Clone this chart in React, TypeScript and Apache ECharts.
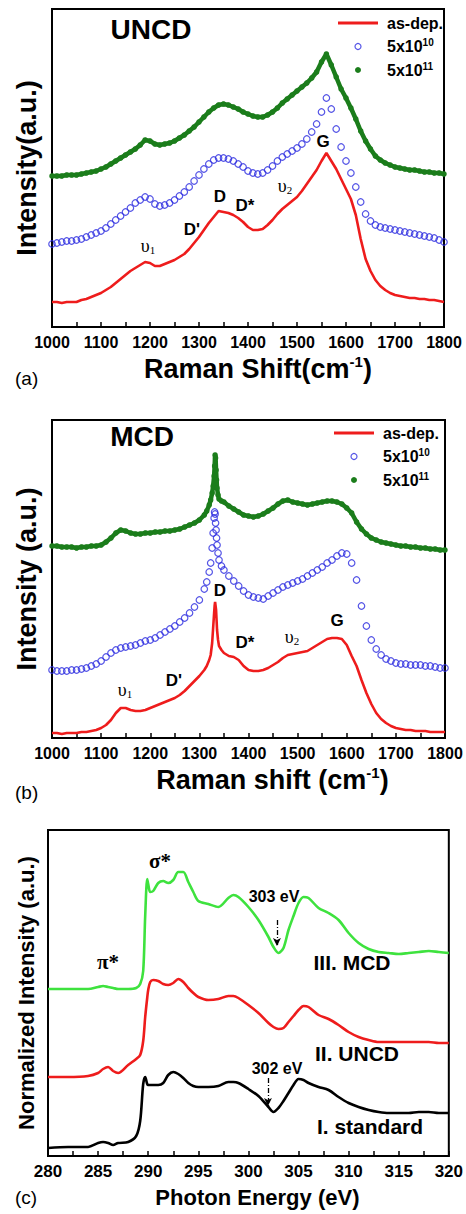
import React, { useEffect, useRef } from "react";
import * as echarts from "echarts";

// ---------- Panel (a): UNCD Raman ----------
const X_A = [
  1000, 1010, 1020, 1030, 1040, 1050, 1060, 1070, 1080, 1090,
  1100, 1110, 1120, 1130, 1140, 1150, 1160, 1170, 1180, 1190,
  1200, 1210, 1220, 1230, 1240, 1250, 1260, 1270, 1280, 1290,
  1300, 1310, 1320, 1330, 1340, 1350, 1360, 1370, 1380, 1390,
  1400, 1410, 1420, 1430, 1440, 1450, 1460, 1470, 1480, 1490,
  1500, 1510, 1520, 1530, 1540, 1550, 1560, 1570, 1580, 1590,
  1600, 1610, 1620, 1630, 1640, 1650, 1660, 1670, 1680, 1690,
  1700, 1710, 1720, 1730, 1740, 1750, 1760, 1770, 1780, 1790, 1800,
];
const ASDEP_A = [
  25, 25, 24, 25, 25, 25, 27, 28, 30, 32,
  34, 37, 40, 44, 48, 52, 56, 59, 62, 65,
  64, 61, 61, 63, 65, 67, 70, 73, 78, 84,
  90, 97, 104, 110, 116, 115, 114, 112, 109, 105,
  100, 97, 97, 98, 102, 107, 113, 118, 122, 126,
  130, 136, 143, 150, 157, 166, 174, 166, 158, 148,
  138, 128, 112, 88, 68, 56, 47, 41, 37, 34,
  32, 31, 30, 29, 29, 28, 28, 27, 27, 26, 25,
];
const ION10_A = [
  83, 84, 85, 86, 86, 87, 88, 90, 92, 94,
  96, 99, 103, 107, 111, 115, 119, 124, 127, 130,
  128, 123, 121, 122, 124, 127, 131, 135, 140, 146,
  152, 158, 163, 167, 169, 169, 168, 166, 163, 160,
  156, 154, 153, 154, 157, 161, 166, 170, 173, 176,
  179, 183, 188, 195, 203, 215, 229, 218, 198, 180,
  166, 154, 140, 125, 113, 106, 102, 100, 99, 98,
  97, 96, 95, 94, 93, 92, 91, 90, 89, 87, 85,
];
const ION11_A = [
  151, 151, 151, 152, 152, 152, 153, 154, 155, 156,
  158, 160, 163, 166, 169, 172, 175, 178, 182, 187,
  186, 183, 182, 183, 184, 186, 189, 192, 196, 200,
  205, 210, 215, 219, 222, 223, 222, 220, 218, 215,
  213, 211, 210, 210, 212, 215, 219, 224, 228, 232,
  236, 240, 244, 249, 255, 265, 273, 262, 250, 238,
  229, 219, 208, 196, 186, 178, 171, 167, 164, 162,
  160, 159, 158, 157, 157, 156, 155, 155, 154, 154, 153,
];

// ---------- Panel (b): MCD Raman ----------
const X_B = [
  1000, 1010, 1020, 1030, 1040, 1050, 1060, 1070, 1080, 1090,
  1100, 1110, 1120, 1130, 1140, 1150, 1160, 1170, 1180, 1190,
  1200, 1210, 1220, 1230, 1240, 1250, 1260, 1270, 1280, 1290,
  1300, 1310, 1315, 1320, 1323, 1326, 1328, 1330, 1331, 1332,
  1333, 1334, 1335, 1336, 1338, 1340, 1345, 1350, 1360, 1370,
  1380, 1390, 1400, 1410, 1420, 1430, 1440, 1450, 1460, 1470,
  1480, 1490, 1500, 1510, 1520, 1530, 1540, 1550, 1560, 1570,
  1580, 1590, 1600, 1610, 1620, 1630, 1640, 1650, 1660, 1670,
  1680, 1690, 1700, 1710, 1720, 1730, 1740, 1750, 1760, 1770,
  1780, 1790, 1800,
];
const ASDEP_B = [
  5, 5, 4, 5, 5, 5, 6, 6, 7, 8,
  10, 13, 18, 25, 30, 30, 28, 27, 27, 28,
  30, 32, 34, 36, 38, 40, 43, 47, 52, 57,
  62, 68, 72, 78, 83, 95, 110, 125, 132, 136,
  136, 128, 118, 108, 98, 92, 88, 85, 82, 81,
  78, 72, 68, 67, 67, 68, 70, 73, 76, 80,
  83, 84, 85, 86, 87, 90, 93, 96, 99, 100,
  100, 99, 93, 82, 72, 58, 45, 34, 25, 19,
  15, 12, 10, 9, 8, 8, 7, 7, 7, 6,
  6, 6, 6,
];
const ION10_B = [
  68, 67, 67, 67, 68, 68, 69, 70, 72, 74,
  77, 81, 85, 88, 90, 91, 92, 93, 95, 97,
  98, 100, 103, 106, 109, 112, 116, 120, 125, 131,
  138, 149, 156, 166, 175, 190, 205, 220, 226, 224,
  215, 208, 200, 193, 185, 178, 172, 168, 162, 157,
  152, 147, 143, 141, 140, 139, 142, 145, 148, 151,
  153, 155, 157, 159, 162, 165, 168, 171, 175, 178,
  182, 185, 184, 175, 158, 132, 112, 98, 89, 83,
  79, 77, 75, 74, 74, 73, 73, 73, 72, 72,
  71, 70, 70,
];
const ION11_B = [
  192, 192, 191, 191, 191, 190, 191, 191, 192, 192,
  193, 196, 200, 205, 208, 207, 205, 204, 204, 205,
  205, 206, 206, 207, 207, 208, 209, 211, 213, 215,
  218, 223, 227, 233, 238, 245, 252, 262, 272, 283,
  280, 268, 258, 250, 243, 239, 237, 236, 232, 229,
  226, 223, 222, 221, 222, 224, 227, 230, 234, 237,
  238, 236, 235, 234, 233, 234, 235, 236, 237, 237,
  236, 234, 230, 225, 216, 209, 204, 200, 198, 196,
  195, 194, 193, 192, 192, 191, 191, 190, 190, 189,
  189, 188, 188,
];

// ---------- Panel (c): C K-edge XANES ----------
const E_C = [
  280, 282, 284, 285, 285.5, 286, 286.5, 287, 288, 288.8,
  289.2, 289.5, 289.7, 289.9, 290, 290.2, 290.5, 291, 291.5, 292,
  292.5, 293, 293.5, 294, 294.5, 295, 296, 297, 298, 298.5,
  299, 300, 301, 302, 302.5, 303, 303.5, 304, 304.5, 305,
  305.5, 306, 307, 308, 309, 310, 311, 312, 313, 314,
  315, 316, 317, 318, 319, 320,
];
const MCD_C = [
  167, 167, 167, 169, 170, 169, 168, 167, 167, 168,
  172, 185, 240, 277, 272, 264, 265, 273, 275, 273,
  276, 284, 284, 274, 264, 255, 252, 249, 258, 261,
  259, 249, 236, 219, 209, 203, 208, 226, 240, 253,
  259, 258, 248, 243, 236, 223, 213, 207, 204, 203,
  202, 203, 204, 205, 204, 203,
];
const UNCD_C = [
  79, 79, 80, 83, 87, 89, 85, 83, 91, 97,
  101, 115, 139, 158, 166, 174, 176, 175, 172, 171,
  173, 177, 174, 168, 163, 159, 156, 157, 160, 160,
  158, 151, 143, 133, 129, 127, 128, 134, 140, 146,
  150, 149, 141, 137, 131, 124, 119, 116, 114, 114,
  114, 114, 114, 114, 113, 113,
];
const STD_C = [
  8, 9, 9, 13, 14, 13, 11, 13, 14, 20,
  35, 72, 79, 72, 71, 71, 71, 71, 73, 81,
  84, 82, 78, 73, 70, 69, 69, 70, 74, 74,
  73, 67, 60, 49, 44, 48, 55, 63, 71, 77,
  76, 73, 69, 66, 59, 53, 49, 46, 44, 43,
  43, 43, 44, 44, 43, 43,
];

const LEGEND_NAMES = ["as-dep.", "5x10^10", "5x10^11"];
const XANES_NAMES = ["III. MCD", "II. UNCD", "I. standard"];

const RED = "#ee1c1c";
const BLUE = "#2a2ae0";
const DKGREEN = "#1b7d1b";
const LTGREEN = "#3ee23e";
const BLACK = "#000000";

const FONT = "'Liberation Sans', Arial, Helvetica, sans-serif";
const SERIF = "'Liberation Serif', 'Times New Roman', serif";

const pairs = (xs: number[], ys: number[]) => xs.map((x, i) => [x, ys[i]]);

const legendFormatter = (name: string) => {
  const parts = name.split("^");
  return parts.length > 1 ? `{b|${parts[0]}}{s|${parts[1]}}` : `{b|${name}}`;
};

const legendCfg = (left: number, top: number) => ({
  left,
  top,
  orient: "vertical",
  itemWidth: 40,
  itemHeight: 6,
  itemGap: 6.5,
  selectedMode: false,
  formatter: legendFormatter,
  textStyle: {
    color: "#000",
    rich: {
      b: { fontFamily: FONT, fontSize: 16, fontWeight: "bold", color: "#000", lineHeight: 18, padding: [0, 0, 0, 4] },
      s: { fontFamily: FONT, fontSize: 10, fontWeight: "bold", color: "#000", verticalAlign: "top", lineHeight: 10 },
    },
  },
  data: [
    { name: LEGEND_NAMES[0], icon: "path://M0 0H40V3H0Z", itemStyle: { color: RED } },
    { name: LEGEND_NAMES[1], icon: "circle", itemStyle: { color: "rgba(0,0,0,0)", borderColor: BLUE, borderWidth: 1.2 } },
    { name: LEGEND_NAMES[2], icon: "circle", itemStyle: { color: DKGREEN } },
  ],
});

const xAxisCfg = (gi: number, min: number, max: number, interval: number, name: string, padLeft: number, fs: number, labelFs: number, nameGap: number) => ({
  type: "value",
  gridIndex: gi,
  min,
  max,
  interval,
  name,
  nameLocation: "middle",
  nameGap,
  nameTextStyle: {
    padding: [0, 0, 0, padLeft],
    rich: {
      t: { fontFamily: FONT, fontSize: fs, fontWeight: "bold", color: "#000", lineHeight: fs + 2 },
      s: { fontFamily: FONT, fontSize: Math.round(fs * 0.55), fontWeight: "bold", color: "#000", verticalAlign: "top", lineHeight: 12 },
    },
  },
  axisLine: { show: true, onZero: false, lineStyle: { color: "#000", width: 2 } },
  axisTick: { show: true, inside: true, length: 5, lineStyle: { color: "#000", width: 1.5 } },
  minorTick: { show: true, splitNumber: 2, length: 5, lineStyle: { color: "#000", width: 1.5 } },
  splitLine: { show: false },
  minorSplitLine: { show: false },
  axisLabel: {
    fontFamily: FONT,
    fontSize: labelFs,
    fontWeight: "bold",
    color: "#000",
    margin: 7,
    formatter: (v: number) => String(v),
  },
});

const yAxisCfg = (gi: number, max: number, name: string, fs: number, nameGap: number) => ({
  type: "value",
  gridIndex: gi,
  min: 0,
  max,
  name,
  nameLocation: "middle",
  nameGap,
  nameTextStyle: { fontFamily: FONT, fontSize: fs, fontWeight: "bold", color: "#000" },
  axisLine: { show: true, onZero: false, lineStyle: { color: "#000", width: 2 } },
  axisTick: { show: false },
  axisLabel: { show: false },
  splitLine: { show: false },
});

const redLine = (gi: number, xs: number[], ys: number[]) => ({
  name: LEGEND_NAMES[0],
  type: "line",
  xAxisIndex: gi,
  yAxisIndex: gi,
  data: pairs(xs, ys),
  symbol: "none",
  lineStyle: { color: RED, width: 2.6 },
  itemStyle: { color: RED },
  silent: true,
});
const blueOpen = (gi: number, xs: number[], ys: number[]) => ({
  name: LEGEND_NAMES[1],
  type: "scatter",
  xAxisIndex: gi,
  yAxisIndex: gi,
  data: pairs(xs, ys),
  symbol: "circle",
  symbolSize: 6.5,
  itemStyle: { color: "rgba(0,0,0,0)", borderColor: BLUE, borderWidth: 1.2 },
  silent: true,
});
const greenDots = (gi: number, xs: number[], ys: number[]) => ({
  name: LEGEND_NAMES[2],
  type: "line",
  xAxisIndex: gi,
  yAxisIndex: gi,
  data: pairs(xs, ys),
  symbol: "circle",
  symbolSize: 5.5,
  showSymbol: true,
  showAllSymbol: true,
  lineStyle: { color: DKGREEN, width: 4.5 },
  itemStyle: { color: DKGREEN },
  silent: true,
});
const xanesLine = (name: string, ys: number[], color: string, arrow?: number[]) => ({
  name,
  type: "line",
  xAxisIndex: 2,
  yAxisIndex: 2,
  data: pairs(E_C, ys),
  symbol: "none",
  smooth: 0.3,
  lineStyle: { color, width: 2.6 },
  itemStyle: { color },
  silent: true,
  markLine: arrow
    ? {
        silent: true,
        symbol: ["none", "arrow"],
        symbolSize: [6, 8],
        label: { show: false },
        lineStyle: { color: "#000", width: 1.3, type: [5, 2, 1, 2] },
        data: [[{ coord: [arrow[0], arrow[1]] }, { coord: [arrow[0], arrow[2]] }]],
      }
    : undefined,
});

const txt = (text: string, x: number, y: number, font: string, align = "center", rich?: any) => ({
  type: "text",
  x,
  y,
  silent: true,
  style: { text, x: 0, y: 0, font, fill: "#000", align, verticalAlign: "middle", rich },
});

const upsRich = {
  u: { fontFamily: SERIF, fontSize: 18, color: "#000" },
  s: { fontFamily: SERIF, fontSize: 11, color: "#000", verticalAlign: "bottom" },
};

const BOLD17 = `bold 17px ${FONT}`;

const option = {
  animation: false,
  backgroundColor: "#ffffff",
  grid: [
    { left: 52, top: 9, width: 392, height: 318, show: true, borderColor: "#000", borderWidth: 2 },
    { left: 52, top: 420, width: 393, height: 318, show: true, borderColor: "#000", borderWidth: 2 },
    { left: 48, top: 830, width: 402, height: 326, show: true, borderColor: "#000", borderWidth: 2 },
  ],
  xAxis: [
    xAxisCfg(0, 1000, 1800, 100, "{t|Raman Shift(cm}{s|-1}{t|)}", 20, 27, 16, 27),
    xAxisCfg(1, 1000, 1800, 100, "{t|Raman shift (cm}{s|-1}{t|)}", 48, 27, 16, 27),
    xAxisCfg(2, 280, 320, 5, "{t|Photon Energy (eV)}", 18, 22, 17, 29),
  ],
  yAxis: [
    yAxisCfg(0, 318, "Intensity(a.u.)", 27, 12),
    yAxisCfg(1, 318, "Intensity (a.u.)", 27, 12),
    yAxisCfg(2, 326, "Normalized Intensity (a.u.)", 22, 11),
  ],
  legend: [legendCfg(333, 10), legendCfg(329, 420)],
  series: [
    redLine(0, X_A, ASDEP_A),
    blueOpen(0, X_A, ION10_A),
    greenDots(0, X_A, ION11_A),
    redLine(1, X_B, ASDEP_B),
    blueOpen(1, X_B, ION10_B),
    greenDots(1, X_B, ION11_B),
    xanesLine(XANES_NAMES[0], MCD_C, LTGREEN, [302.85, 236, 210]),
    xanesLine(XANES_NAMES[1], UNCD_C, RED),
    xanesLine(XANES_NAMES[2], STD_C, BLACK, [301.95, 78, 50]),
  ],
  graphic: [
    // panel (a)
    txt("UNCD", 151, 29, `bold 28px ${FONT}`),
    txt("{u|υ}{s|1}", 148, 246, `18px ${SERIF}`, "center", upsRich),
    txt("D'", 192, 229, BOLD17),
    txt("D", 220, 196, BOLD17),
    txt("D*", 245, 205, BOLD17),
    txt("{u|υ}{s|2}", 285, 186, `18px ${SERIF}`, "center", upsRich),
    txt("G", 323, 141, BOLD17),
    txt("(a)", 15, 378, `19px ${FONT}`, "left"),
    // panel (b)
    txt("MCD", 142, 436, `bold 28px ${FONT}`),
    txt("{u|υ}{s|1}", 125, 690, `18px ${SERIF}`, "center", upsRich),
    txt("D'", 174, 680, BOLD17),
    txt("D", 220, 590, BOLD17),
    txt("D*", 245, 642, BOLD17),
    txt("{u|υ}{s|2}", 292, 637, `18px ${SERIF}`, "center", upsRich),
    txt("G", 337, 620, BOLD17),
    txt("(b)", 15, 792, `19px ${FONT}`, "left"),
    // panel (c)
    txt("σ*", 160, 861, `bold 21px ${SERIF}`),
    txt("π*", 108, 962, `bold 21px ${SERIF}`),
    txt("303 eV", 274, 896, `bold 16px ${FONT}`),
    txt("302 eV", 277, 1068, `bold 16px ${FONT}`),
    txt(XANES_NAMES[0], 352, 962, `bold 21px ${FONT}`),
    txt(XANES_NAMES[1], 357, 1053, `bold 21px ${FONT}`),
    txt(XANES_NAMES[2], 370, 1126, `bold 21px ${FONT}`),
    txt("(c)", 15, 1197, `19px ${FONT}`, "left"),
  ],
};

export default function App() {
  const ref = useRef<HTMLDivElement>(null);
  useEffect(() => {
    if (!ref.current) return;
    const chart = echarts.init(ref.current, null, { renderer: "svg" });
    chart.setOption(option as any);
    return () => chart.dispose();
  }, []);
  return (
    <div
      ref={ref}
      style={{ position: "absolute", left: 0, top: 0, width: 466, height: 1214, background: "#fff" }}
    />
  );
}
